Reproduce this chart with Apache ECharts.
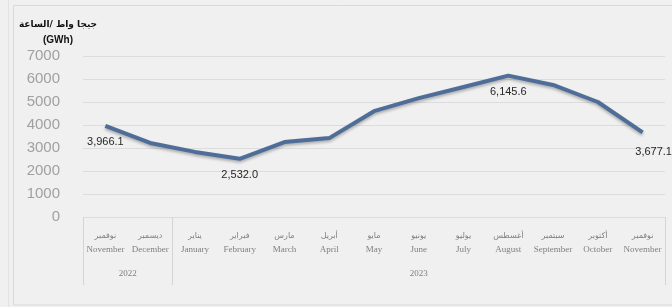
<!DOCTYPE html>
<html>
<head>
<meta charset="utf-8">
<script src="https://cdn.jsdelivr.net/npm/echarts@6/dist/echarts.min.js"></script>
<style>
  html, body { margin: 0; padding: 0; background: #f0f0f0; }
  #chart { width: 672px; height: 307px; }
</style>
</head>
<body>
<div id="chart"></div>
<script>
// data
var monthsAr = ["نوفمبر", "ديسمبر", "يناير", "فبراير", "مارس", "أبريل", "مايو", "يونيو", "يوليو", "أغسطس", "سبتمبر", "أكتوبر", "نوفمبر"];
var monthsEn = ["November", "December", "January", "February", "March", "April", "May", "June", "July", "August", "September", "October", "November"];
var monthYears = ["2022", "2022", "2023", "2023", "2023", "2023", "2023", "2023", "2023", "2023", "2023", "2023", "2023"];
var consumption = [3966.1, 3220, 2830, 2532.0, 3260, 3430, 4600, 5170, 5650, 6145.6, 5740, 5000, 3677.1];
var labeledPoints = [0, 3, 9, 12];
var yTicks = [0, 1000, 2000, 3000, 4000, 5000, 6000, 7000];
var unitTitle = "جيجا واط /الساعة";
var unitSub = "(GWh)";

// year groups (boundaries + centres) built from monthYears
var yearBounds = [0];
var yearCentres = {};
var start = 0;
for (var i = 1; i <= monthYears.length; i++) {
  if (i === monthYears.length || monthYears[i] !== monthYears[start]) {
    yearBounds.push(i);
    yearCentres[(start + i) / 2] = monthYears[start];
    start = i;
  }
}

var arFont = "'DejaVu Sans', sans-serif";
var enFont = "'Liberation Serif', 'DejaVu Serif', serif";
var lineColor = "#4e6d98";

// only a few points carry a value label
var seriesData = consumption.map(function (v, idx) {
  var item = { value: v };
  if (idx === consumption.length - 1) {
    item.label = { offset: [11, 0], distance: 14 };
  }
  return item;
});

var myChart = echarts.init(document.getElementById("chart"));

myChart.setOption({
  backgroundColor: "#f0f0f0",
  animation: false,
  title: {
    text: "{ar|" + unitTitle + "}\n{en|" + unitSub + "}",
    left: 53,
    top: 12,
    textAlign: "center",
    textStyle: {
      rich: {
        ar: { fontSize: 9, fontWeight: "bold", color: "#111", fontFamily: arFont, lineHeight: 15 },
        en: { fontSize: 10, fontWeight: "bold", color: "#111", fontFamily: "'Liberation Sans', Arial, sans-serif", lineHeight: 16 }
      }
    }
  },
  graphic: [
    {
      type: "rect",
      shape: { x: 13.5, y: 5.5, width: 680, height: 299.5 },
      style: { fill: "none", stroke: "#d9d9d9", lineWidth: 1 },
      silent: true
    },
    {
      type: "line",
      shape: { x1: 8.5, y1: 0, x2: 8.5, y2: 307 },
      style: { stroke: "#e2e2e2", lineWidth: 1 },
      silent: true
    }
  ],
  grid: {
    left: 83,
    right: 7,
    top: 56,
    bottom: 90,
    containLabel: false
  },
  xAxis: [
    {
      type: "category",
      data: monthsEn,
      boundaryGap: true,
      axisLine: { show: false },
      axisTick: { show: false },
      splitLine: { show: false },
      axisLabel: {
        interval: 0,
        margin: 11,
        formatter: function (val, idx) {
          return "{ar|" + monthsAr[idx] + "}\n{en|" + val + "}";
        },
        rich: {
          ar: { fontSize: 8, color: "#7f7f7f", fontFamily: arFont, lineHeight: 15 },
          en: { fontSize: 9, color: "#7f7f7f", fontFamily: enFont, lineHeight: 14 }
        }
      }
    },
    {
      type: "value",
      min: 0,
      max: monthYears.length,
      position: "bottom",
      axisLine: { show: false },
      splitLine: { show: false },
      axisTick: {
        show: true,
        customValues: yearBounds,
        length: 68,
        lineStyle: { color: "#d4d4d4", width: 1 }
      },
      axisLabel: {
        customValues: Object.keys(yearCentres).map(Number),
        margin: 52,
        fontSize: 9,
        color: "#7f7f7f",
        fontFamily: enFont,
        formatter: function (v) {
          return yearCentres[v] || "";
        }
      }
    }
  ],
  yAxis: {
    type: "value",
    min: yTicks[0],
    max: yTicks[yTicks.length - 1],
    interval: 1000,
    axisLine: { show: false },
    axisTick: { show: false },
    axisLabel: {
      margin: 23,
      fontSize: 15,
      color: "#a0a0a0",
      fontFamily: "'Liberation Sans', Arial, sans-serif",
      formatter: function (v) { return String(v); }
    },
    splitLine: { show: true, lineStyle: { color: "#dcdcdc", width: 1 } }
  },
  series: [
    {
      type: "line",
      xAxisIndex: 0,
      data: seriesData,
      symbol: "circle",
      symbolSize: 0.1,
      showSymbol: true,
      itemStyle: { color: "transparent" },
      lineStyle: {
        color: lineColor,
        width: 4,
        shadowColor: "rgba(0,0,0,0.28)",
        shadowBlur: 3,
        shadowOffsetY: 2
      },
      label: {
        show: true,
        position: "bottom",
        distance: 11,
        fontSize: 11,
        color: "#262626",
        fontFamily: "'Liberation Sans', Arial, sans-serif",
        formatter: function (p) {
          if (labeledPoints.indexOf(p.dataIndex) < 0) return "";
          return p.value.toLocaleString("en-US", { minimumFractionDigits: 1, maximumFractionDigits: 1 });
        }
      }
    }
  ]
});
</script>
</body>
</html>
